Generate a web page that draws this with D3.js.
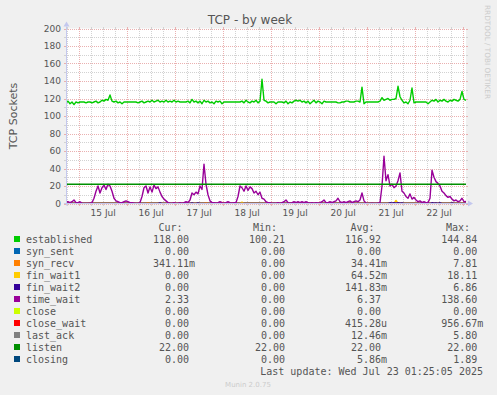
<!DOCTYPE html>
<html>
<head>
<meta charset="utf-8">
<script src="https://cdn.jsdelivr.net/npm/d3@7"></script>
<style>
body { margin: 0; background: #f0f0f0; }
svg { display: block; }
</style>
</head>
<body>
<script>
// one sample per hour, last sample at the "last update" time
var endTime = new Date(Date.UTC(2025, 6, 23, 1, 25, 5));
var stepMs = 3600 * 1000;

var established = [
  115,117,114,116,113,116,115,116,116,116,
  115,116,116,115,116,117,115,116,
  118,117,119,118,124,117,116,
  117,115,116,114,
  116,116,116,116,116,116,116,115,116,117,115,116,
  117,116,118,116,117,118,
  116,117,116,118,116,
  117,116,118,116,117,116,116,116,116,117,115,119,
  116,117,
  115,117,114,118,116,117,115,116,114,117,116,117,
  114,116,116,116,116,116,116,116,116,116,
  117,115,118,116,115,117,116,118,115,117,
  142,
  118,117,115,116,
  116,116,114,116,116,116,
  115,117,114,116,115,
  117,118,117,118,116,117,
  115,117,114,116,118,115,117,116,114,117,116,116,
  116,116,116,116,115,115,116,116,117,117,116,116,116,117,117,116,
  133,
  114,
  116,116,116,116,116,116,116,
  117,121,118,119,120,118,119,119,120,
  134,
  122,118,115,116,114,118,
  132,
  115,116,116,116,116,116,116,
  114,116,
  118,117,119,116,118,117,119,117,116,118,117,119,118,117,119,
  128,
  119,118
];

var timeWait = [
  2,2,1,2,4,1,1,2,
  0.5,0,0,0,0.5,1,
  6,14,20,12,18,21,16,22,20,14,6,3,
  2,1,1,2,3,2,1,1,0.5,0,0,1,
  8,18,20,12,19,13,21,17,19,13,8,5,3,1,
  0.5,0,1,0,0,1,0,1,2,1,
  4,12,10,13,11,20,16,45,22,10,3,1,
  1,0.5,1,2,1,0.5,1,2,1,0.5,1,1,
  8,20,18,14,20,15,19,17,12,14,10,13,6,5,2,1,
  1,0,0.5,0,1,0,1,2,4,1,0.5,1,2,1,2,1,2,1,2,1,
  0.5,1,0,1,0.5,1,2,4,1,1,2,1,2,3,6,2,1,2,1,
  2,3,1,2,3,2,4,12,3,
  0.5,0,0,0.5,0,0,0.5,1,
  20,54,26,33,20,22,18,20,26,35,14,12,8,6,11,5,7,4,2,3,
  1,2,1,1,6,38,30,25,23,20,14,12,9,7,8,5,3,4,2,3,6,2,2.33
];

// sparse series: [hour index, value]
var synSent = [[0, 0], [200, 0]];
var synRecv = [[0, 0], [40, 0], [41, 1], [42, 0], [69, 0], [70, 1], [71, 0], [77, 0], [78, 1.2], [79, 0], [200, 0]];
var finWait1 = [[0, 0], [87, 0], [88, 1.5], [89, 0], [164, 0], [165, 3.5], [166, 0], [200, 0]];
var finWait2 = [[0, 0], [46, 0], [47, 0.8], [48, 0], [62, 0], [63, 0.6], [64, 0], [65, 0], [66, 0.7], [67, 0],
  [161, 0], [162, 0.8], [163, 0.3], [164, 0.9], [165, 0.4], [166, 0.8], [167, 0.3], [168, 0.7], [169, 0],
  [182, 0], [183, 0.8], [184, 0.3], [185, 0.7], [186, 0.2], [187, 0.8], [188, 0], [192, 0], [193, 0.7], [194, 0], [200, 0]];
var closeS = [[0, 0], [200, 0]];
var closeWait = [[0, 0], [200, 0]];
var lastAck = [[0, 0], [200, 0]];
var listen = [[0, 22], [200, 22]];
var closing = [[0, 0], [200, 0]];

var legendNames = ["established", "syn_sent", "syn_recv", "fin_wait1", "fin_wait2", "time_wait",
  "close", "close_wait", "last_ack", "listen", "closing"];
var legendColors = ["#00cc00", "#0066b3", "#ff8000", "#ffcc00", "#330099", "#990099",
  "#ccff00", "#ff0000", "#808080", "#008f00", "#00487d"];
var curVals = ["118.00", "0.00", "341.11m", "0.00", "0.00", "2.33", "0.00", "0.00", "0.00", "22.00", "0.00"];
var minVals = ["100.21", "0.00", "0.00", "0.00", "0.00", "0.00", "0.00", "0.00", "0.00", "22.00", "0.00"];
var avgVals = ["116.92", "0.00", "34.41m", "64.52m", "141.83m", "6.37", "0.00", "415.28u", "12.46m", "22.00", "5.86m"];
var maxVals = ["144.84", "0.00", "7.81", "18.11", "6.86", "138.60", "0.00", "956.67m", "5.80", "22.00", "1.89"];

var W = 497, H = 395,
    pLeft = 66, pRight = 466, pTop = 28.5, pBottom = 203.5;

var startTime = new Date(endTime.getTime() - 200 * stepMs);
function hourTime(i) { return new Date(startTime.getTime() + i * stepMs); }

var svg = d3.select("body").append("svg")
    .attr("width", W)
    .attr("height", H)
    .style("font-family", "'DejaVu Sans', sans-serif");

svg.append("rect").attr("width", W).attr("height", H).attr("fill", "#f0f0f0");

var x = d3.scaleUtc().domain([startTime, endTime]).range([pLeft, pRight]);
var y = d3.scaleLinear().domain([0, 200]).range([pBottom, pTop]);

svg.append("rect")
    .attr("x", pLeft).attr("y", pTop)
    .attr("width", pRight - pLeft).attr("height", pBottom - pTop)
    .attr("fill", "#fff");

// grid
var minorCol = "#d2d2d2", majorCol = "#eab0b0";
var g = svg.append("g").attr("shape-rendering", "crispEdges");

var yMinor = d3.range(10, 200, 20), yMajor = d3.range(0, 201, 20);
var xMinor = d3.utcHour.every(6).range(startTime, endTime).filter(function(d) { return d.getUTCHours() !== 0; });
var xMajor = d3.utcDay.range(startTime, endTime);

function hLines(vals, col) {
  g.selectAll(null).data(vals).enter().append("line")
      .attr("x1", pLeft).attr("x2", pRight)
      .attr("y1", function(d) { return Math.round(y(d)) + 0.5; })
      .attr("y2", function(d) { return Math.round(y(d)) + 0.5; })
      .attr("stroke", col).attr("stroke-dasharray", "1,1");
  [[pLeft - 2, pLeft], [pRight, pRight + 2]].forEach(function(s) {
    g.selectAll(null).data(vals).enter().append("line")
        .attr("x1", s[0]).attr("x2", s[1])
        .attr("y1", function(d) { return Math.round(y(d)) + 0.5; })
        .attr("y2", function(d) { return Math.round(y(d)) + 0.5; })
        .attr("stroke", col);
  });
}
function vLines(vals, col) {
  g.selectAll(null).data(vals).enter().append("line")
      .attr("y1", pTop).attr("y2", pBottom)
      .attr("x1", function(d) { return Math.round(x(d)) + 0.5; })
      .attr("x2", function(d) { return Math.round(x(d)) + 0.5; })
      .attr("stroke", col).attr("stroke-dasharray", "1,1");
  [[pTop - 2, pTop], [pBottom, pBottom + 2]].forEach(function(s) {
    g.selectAll(null).data(vals).enter().append("line")
        .attr("y1", s[0]).attr("y2", s[1])
        .attr("x1", function(d) { return Math.round(x(d)) + 0.5; })
        .attr("x2", function(d) { return Math.round(x(d)) + 0.5; })
        .attr("stroke", col);
  });
}
hLines(yMinor, minorCol);
vLines(xMinor, minorCol);
hLines(yMajor, majorCol);
vLines(xMajor, majorCol);

// series
svg.append("clipPath").attr("id", "canvas")
  .append("rect").attr("x", pLeft).attr("y", pTop).attr("width", pRight - pLeft).attr("height", pBottom - pTop);

var line = d3.line()
    .x(function(d) { return x(hourTime(d[0])); })
    .y(function(d) { return y(d[1]); });

function pairs(arr) { return arr.map(function(v, i) { return [i, v]; }); }

var plot = svg.append("g").attr("clip-path", "url(#canvas)");
var drawOrder = [
  [synSent, "#0066b3"], [closeS, "#ccff00"], [closeWait, "#ff0000"], [lastAck, "#808080"], [closing, "#00487d"],
  [pairs(established), "#00cc00"], [synRecv, "#ff8000"], [finWait1, "#ffcc00"], [finWait2, "#330099"],
  [pairs(timeWait), "#990099"], [listen, "#008f00"]
];
drawOrder.forEach(function(s) {
  plot.append("path")
      .datum(s[0])
      .attr("fill", "none")
      .attr("stroke", s[1])
      .attr("stroke-width", 1.4)
      .attr("stroke-linejoin", "round")
      .attr("d", line);
});

// axes
var axisCol = "#c4c8ee";
svg.append("line").attr("x1", pLeft - 2).attr("x2", pRight + 3).attr("y1", pBottom).attr("y2", pBottom)
    .attr("stroke", axisCol);
svg.append("line").attr("x1", pLeft + 0.5).attr("x2", pLeft + 0.5).attr("y1", pBottom + 2).attr("y2", pTop - 2)
    .attr("stroke", axisCol);
svg.append("path").attr("d", "M468,200.5L473,203.5L468,206.5Z").attr("fill", axisCol);
svg.append("path").attr("d", "M63.5,26.5L66.5,21.5L69.5,26.5Z").attr("fill", axisCol);

// tick labels
svg.selectAll(null).data(yMajor).enter().append("text")
    .attr("x", 61).attr("y", function(d) { return y(d) + 3.3; })
    .attr("text-anchor", "end").attr("font-size", 9).attr("fill", "#555")
    .text(function(d) { return d; });

var dayLabels = xMajor.map(function(d) { return new Date(d.getTime() + 12 * stepMs); })
    .filter(function(d) { return d < endTime; });
svg.selectAll(null).data(dayLabels).enter().append("text")
    .attr("x", function(d) { return x(d); }).attr("y", 215.5)
    .attr("text-anchor", "middle").attr("font-size", 9).attr("fill", "#555")
    .text(d3.utcFormat("%d %b"));

// titles
svg.append("text").attr("x", 250).attr("y", 24).attr("text-anchor", "middle")
    .attr("font-size", 12).attr("fill", "#555").text("TCP - by week");
svg.append("text").attr("transform", "translate(17," + ((pTop + pBottom) / 2) + ") rotate(-90)")
    .attr("text-anchor", "middle").attr("font-size", 11).attr("fill", "#555").text("TCP Sockets");
svg.append("text").attr("transform", "translate(485,5) rotate(90)")
    .attr("font-size", 7.3).attr("fill", "#ccc").text("RRDTOOL / TOBI OETIKER");

// legend
var mono = "'DejaVu Sans Mono', monospace";
var leg = svg.append("g").style("font-family", mono).attr("font-size", 10).attr("fill", "#555");
var colEnd = [189, 285, 381, 477.3];
var headEnd = [182.5, 277, 374.5, 470];
["Cur:", "Min:", "Avg:", "Max:"].forEach(function(h, j) {
  leg.append("text").attr("x", headEnd[j]).attr("y", 231).attr("text-anchor", "end").text(h);
});

legendNames.forEach(function(name, i) {
  var by = 243 + 12 * i;
  leg.append("rect").attr("x", 14).attr("y", by - 7).attr("width", 6).attr("height", 6)
      .attr("fill", legendColors[i]);
  leg.append("text").attr("x", 26).attr("y", by).text(name);
  [curVals, minVals, avgVals, maxVals].forEach(function(col, j) {
    var m = col[i].match(/^([\d.]+)(\D?)$/);
    leg.append("text").attr("x", colEnd[j]).attr("y", by).attr("text-anchor", "end").text(m[1]);
    if (m[2]) leg.append("text").attr("x", colEnd[j]).attr("y", by).text(m[2]);
  });
});
leg.append("text").attr("x", 483).attr("y", 375).attr("text-anchor", "end")
    .text("Last update: Wed Jul 23 01:25:05 2025");

svg.append("text").attr("x", 248).attr("y", 387).attr("text-anchor", "middle")
    .attr("font-size", 7).attr("fill", "#ccc").text("Munin 2.0.75");
</script>
</body>
</html>
